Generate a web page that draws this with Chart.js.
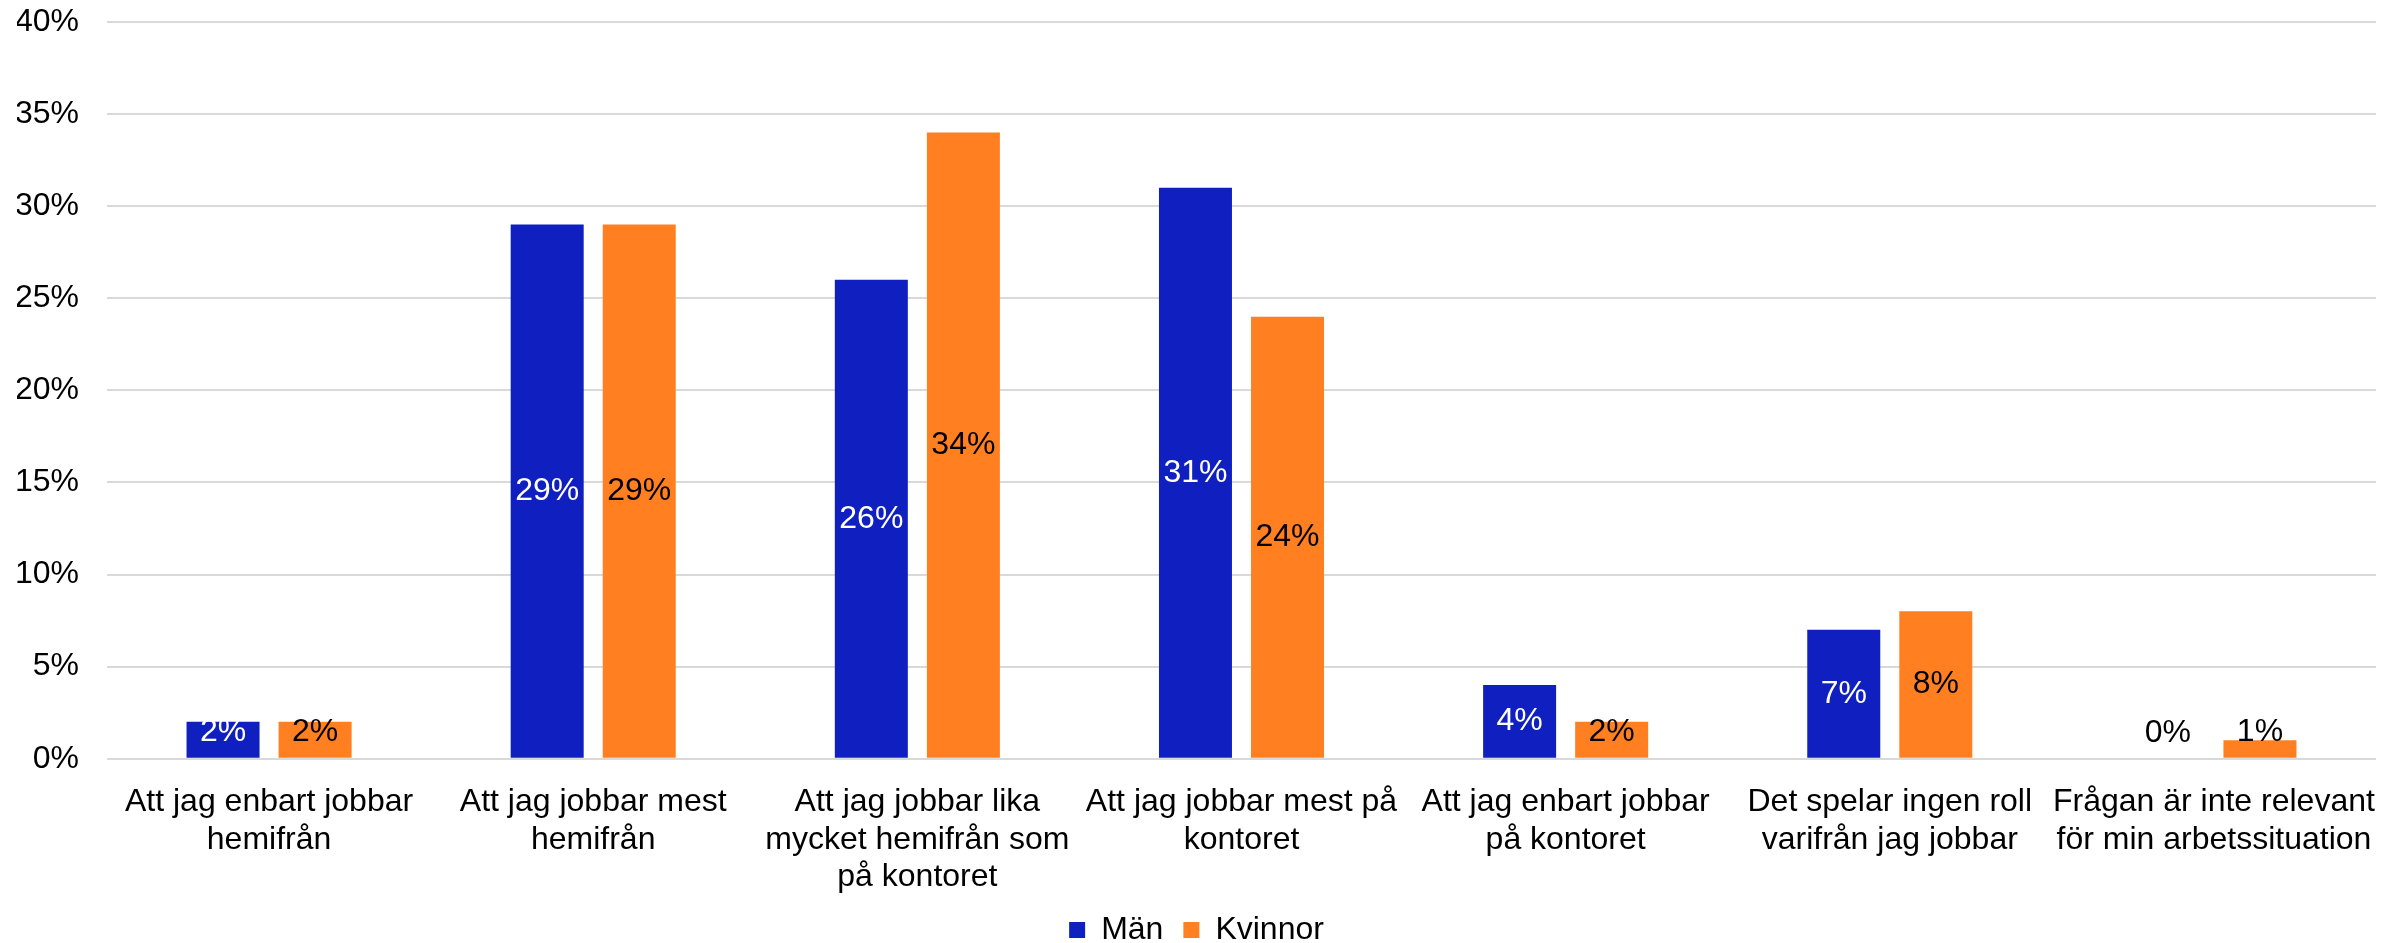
<!DOCTYPE html>
<html>
<head>
<meta charset="utf-8">
<script src="https://cdn.jsdelivr.net/npm/chart.js@4"></script>
<style>
  html, body { margin: 0; padding: 0; background: #fff; }
  #wrap { width: 2405px; height: 943px; }
</style>
</head>
<body>
<div id="wrap"><canvas id="myChart"></canvas></div>
<script>
var categories = [
  ["Att jag enbart jobbar", "hemifrån"],
  ["Att jag jobbar mest", "hemifrån"],
  ["Att jag jobbar lika", "mycket hemifrån som", "på kontoret"],
  ["Att jag jobbar mest på", "kontoret"],
  ["Att jag enbart jobbar", "på kontoret"],
  ["Det spelar ingen roll", "varifrån jag jobbar"],
  ["Frågan är inte relevant", "för min arbetssituation"]
];
var man = [2, 29, 26, 31, 4, 7, 0];
var kvinnor = [2, 29, 34, 24, 2, 8, 1];
var yTicks = [0, 5, 10, 15, 20, 25, 30, 35, 40];

var FONT = "'Liberation Sans', Arial, sans-serif";

// value labels centred in the bars, kept above the axis like Excel does
var barLabels = {
  id: 'barLabels',
  afterDatasetsDraw: function(chart) {
    var ctx = chart.ctx;
    ctx.save();
    ctx.font = '32px ' + FONT;
    ctx.textAlign = 'center';
    ctx.textBaseline = 'middle';
    chart.data.datasets.forEach(function(ds, i) {
      var meta = chart.getDatasetMeta(i);
      meta.data.forEach(function(bar, j) {
        var v = ds.data[j];
        var y = (bar.y + bar.base) / 2;
        if (y > bar.base - 26) y = bar.base - 26;
        ctx.fillStyle = (i === 0 && v > 0) ? '#ffffff' : '#000000';
        ctx.fillText(v + '%', bar.x, y);
      });
    });
    ctx.restore();
  }
};

var ctx = document.getElementById('myChart').getContext('2d');
var myChart = new Chart(ctx, {
  type: 'bar',
  data: {
    labels: categories,
    datasets: [{
      label: 'Män',
      data: man,
      backgroundColor: '#1020C0',
      categoryPercentage: 0.568,
      barPercentage: 0.793
    }, {
      label: 'Kvinnor',
      data: kvinnor,
      backgroundColor: '#FF7F21',
      categoryPercentage: 0.568,
      barPercentage: 0.793
    }]
  },
  options: {
    responsive: true,
    maintainAspectRatio: false,
    animation: false,
    layout: { padding: { left: 17, right: 29, top: 22, bottom: -13 } },
    plugins: {
      legend: {
        position: 'bottom',
        labels: {
          font: { family: FONT, size: 32 },
          color: '#000',
          boxWidth: 16,
          boxHeight: 16,
          padding: 20
        }
      },
      tooltip: { enabled: false }
    },
    scales: {
      x: {
        grid: { display: false, drawTicks: false },
        border: { display: false },
        afterFit: function(axis) { axis.height -= 27; },
        ticks: {
          color: '#000',
          font: { family: FONT, size: 32, lineHeight: 1.17 },
          maxRotation: 0,
          autoSkip: false,
          padding: 25
        }
      },
      y: {
        min: 0,
        max: 40,
        afterBuildTicks: function(axis) {
          axis.ticks = yTicks.map(function(v) { return { value: v }; });
        },
        afterFit: function(axis) {
          axis.width = 90;
          axis.paddingTop = 0;
          axis.paddingBottom = 0;
        },
        grid: { color: '#D9D9D9', lineWidth: 2, drawTicks: false },
        border: { display: false },
        ticks: {
          color: '#000',
          font: { family: FONT, size: 32 },
          padding: 28,
          callback: function(v) { return v + '%'; }
        }
      }
    }
  },
  plugins: [barLabels]
});
</script>
</body>
</html>
